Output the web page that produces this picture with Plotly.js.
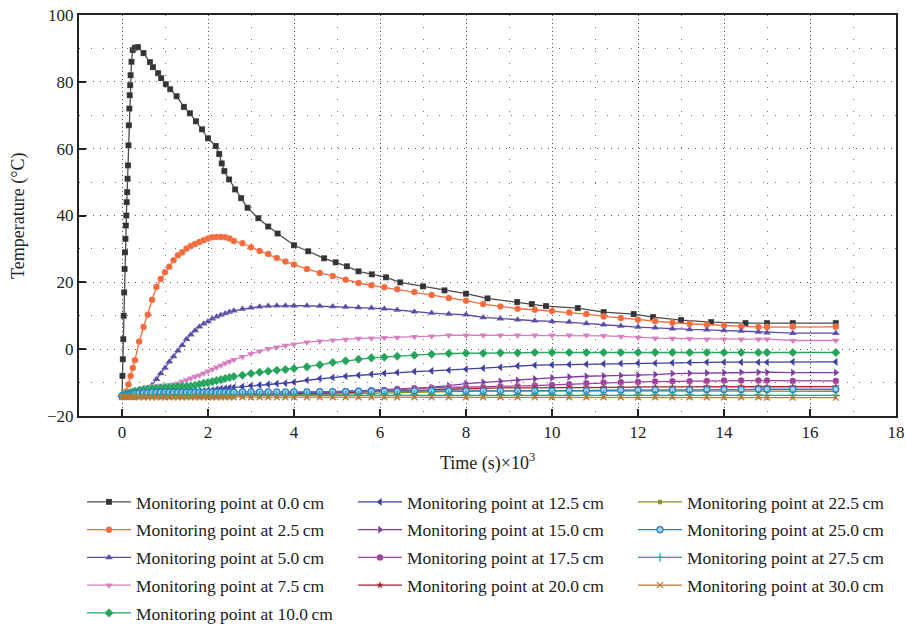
<!DOCTYPE html>
<html>
<head>
<meta charset="utf-8">
<script src="https://cdn.plot.ly/plotly-3.0.1.min.js"></script>
<style>html,body{margin:0;padding:0;background:#fff;}#chart{width:906px;height:624px;}</style>
</head>
<body>
<div id="chart"></div>
<script>
// ---- Data (time in s x10^3, temperature in °C) ----
const timeSurface = [0,0.01,0.02,0.03,0.04,0.05,0.06,0.07,0.08,0.09,0.1,0.11,0.12,0.13,0.14,0.15,0.16,0.17,0.18,0.19,0.2,0.22,0.25,0.3,0.37,
  0.5,0.65,0.72,0.84,0.91,1.02,1.12,1.27,1.44,1.58,1.72,1.86,2.0,2.18,2.26,2.32,2.38,2.49,2.63,2.77,2.92,3.17,3.4,3.62,4.0,4.33,4.7,4.97,5.23,5.5,5.81,6.14,6.47,
  7.0,7.5,8.0,8.5,9.19,9.53,9.86,10.6,11.2,11.9,12.35,13.0,13.7,14.5,15.0,15.6,16.6];
const temp00 = [-14.0,-8,-3,3,10,17,24,29,33,37,40,44,47,51,55,61,67,72,76,79,82,86,89.5,90.2,90.4,
  88.6,85.9,84.4,82.6,81.1,79.3,77.8,75.7,72.5,70.6,68.2,65.8,63.1,60.8,58.4,55.6,53.3,50.8,47.8,45.2,42.3,39.2,36.7,34.6,31.1,29.3,27.2,26.0,24.8,23.3,22.4,21.5,20.0,
  18.8,17.6,16.6,15.2,14.1,13.5,12.9,12.3,11.1,10.5,9.6,8.7,8.1,7.8,7.8,7.8,7.8];

const timeCommon = [0,0.05,0.1,0.15,0.2,0.25,0.3,
  0.4,0.5,0.6,0.7,0.8,0.9,1.0,1.1,1.2,1.3,1.4,1.5,
  1.6,1.7,1.8,1.9,2.0,2.1,2.2,2.3,2.4,2.5,2.6,
  2.8,3.0,3.2,3.4,3.6,3.8,4.0,
  4.3,4.6,4.9,5.2,5.5,5.8,6.1,6.4,
  6.8,7.2,7.6,8.0,8.4,8.8,9.2,9.6,10.0,
  10.4,10.8,11.2,11.6,12.0,12.4,12.8,13.2,13.6,14.0,14.4,14.8,
  15.0,15.6,16.6];

const temp25 = [-14.0,-13.8,-12.6,-10.6,-8.0,-5.6,-3.3,
  2.3,6.6,10.3,14.8,18.6,21.0,23.0,24.7,26.6,28.1,29.0,30.1,
  30.9,31.5,32.1,32.6,33.1,33.5,33.6,33.6,33.5,33.1,32.4,
  31.7,30.5,29.4,28.5,27.3,26.2,25.3,
  24.0,22.8,21.9,20.8,19.8,19.1,18.5,17.9,
  17.1,16.2,15.3,14.5,13.5,12.8,12.1,11.8,11.4,
  11.0,10.5,9.8,9.3,8.8,8.4,7.9,7.6,7.3,7.1,6.8,6.6,
  6.6,6.7,6.7];

const temp50 = [-14.0,-13.9,-13.9,-13.8,-13.8,-13.7,-13.7,
  -13.5,-13.1,-12.2,-10.8,-9.0,-7.3,-5.6,-3.8,-2.2,-0.5,1.2,3.0,
  4.3,5.6,6.7,7.6,8.3,9.1,9.7,10.2,10.7,11.1,11.5,
  12.0,12.4,12.7,12.9,13.0,13.0,13.0,
  13.0,12.9,12.8,12.6,12.5,12.3,12.1,11.7,
  11.2,10.8,10.5,10.3,9.5,9.1,8.8,8.5,8.3,
  8.1,7.7,7.3,6.9,6.6,6.4,6.1,5.9,5.8,5.6,5.4,5.1,
  4.9,4.8,4.8];

const temp75 = [-14.0,-13.8,-13.6,-13.4,-13.1,-12.8,-12.5,
  -12.0,-11.6,-11.3,-11.1,-11.0,-10.9,-10.8,-10.7,-10.5,-10.2,-9.7,-9.2,
  -8.7,-8.2,-7.8,-7.2,-6.6,-6.0,-5.4,-4.8,-4.2,-3.7,-3.2,
  -2.3,-1.4,-0.6,0.1,0.6,1.1,1.5,
  2.1,2.4,2.7,2.9,3.2,3.3,3.4,3.5,
  3.7,3.9,4.2,4.2,4.2,4.2,4.2,4.2,4.2,
  4.2,4.2,4.0,3.8,3.5,3.3,3.2,3.1,3.0,3.0,3.0,3.0,
  3.0,2.6,2.6];

const temp100 = [-14.0,-13.6,-13.4,-13.2,-13.0,-12.8,-12.6,
  -12.3,-12.1,-11.9,-11.8,-11.7,-11.6,-11.5,-11.4,-11.3,-11.2,-11.1,-11.1,
  -11.0,-10.8,-10.5,-10.2,-10.0,-9.7,-9.4,-9.1,-8.8,-8.5,-8.2,
  -7.8,-7.3,-6.9,-6.6,-6.3,-6.1,-5.8,
  -5.3,-4.7,-4.0,-3.5,-3.0,-2.6,-2.4,-2.1,
  -1.8,-1.5,-1.3,-1.2,-1.2,-1.1,-1.1,-1.0,-1.0,
  -1.0,-1.0,-1.0,-1.0,-1.0,-1.0,-1.0,-1.0,-1.0,-1.0,-1.0,-1.0,
  -1.0,-1.0,-1.0];

const temp125 = [-14.0,-13.9,-13.9,-13.9,-13.9,-13.8,-13.8,
  -13.8,-13.8,-13.7,-13.6,-13.5,-13.5,-13.4,-13.3,-13.2,-13.1,-13.0,-12.9,
  -12.8,-12.7,-12.6,-12.5,-12.3,-12.2,-12.0,-11.8,-11.7,-11.5,-11.4,
  -11.2,-10.9,-10.7,-10.5,-10.3,-10.2,-9.9,
  -9.3,-8.8,-8.5,-8.1,-7.8,-7.5,-7.2,-7.0,
  -6.7,-6.5,-6.3,-6.0,-5.7,-5.4,-5.0,-4.8,-4.7,
  -4.6,-4.5,-4.4,-4.3,-4.2,-4.2,-4.1,-4.0,-3.9,-3.9,-3.9,-3.9,
  -3.9,-3.8,-3.8];

const temp150 = [-14.0,-14.0,-14.0,-13.9,-13.9,-13.9,-13.9,
  -13.9,-13.9,-13.9,-13.8,-13.8,-13.8,-13.8,-13.8,-13.8,-13.7,-13.7,-13.7,
  -13.7,-13.7,-13.6,-13.6,-13.6,-13.6,-13.5,-13.5,-13.5,-13.5,-13.5,
  -13.4,-13.4,-13.3,-13.3,-13.2,-13.1,-13.0,
  -12.9,-12.8,-12.7,-12.6,-12.5,-12.4,-12.3,-12.1,
  -11.8,-11.4,-10.9,-10.3,-9.9,-9.6,-9.3,-8.9,-8.6,
  -8.3,-8.1,-8.0,-7.9,-7.8,-7.6,-7.3,-7.2,-7.1,-7.0,-6.9,-6.9,
  -6.9,-7.0,-7.0];

const temp175 = [-14.0,-14.0,-14.0,-14.0,-14.0,-14.0,-14.0,
  -13.9,-13.9,-13.9,-13.9,-13.9,-13.9,-13.9,-13.9,-13.9,-13.9,-13.9,-13.9,
  -13.9,-13.9,-13.8,-13.8,-13.8,-13.8,-13.8,-13.8,-13.7,-13.7,-13.7,
  -13.7,-13.6,-13.6,-13.5,-13.5,-13.4,-13.4,
  -13.2,-13.0,-12.9,-12.7,-12.5,-12.3,-12.2,-11.9,
  -11.7,-11.6,-11.5,-11.4,-11.4,-11.2,-11.1,-10.9,-10.7,
  -10.5,-10.2,-10.0,-9.9,-9.8,-9.7,-9.6,-9.6,-9.5,-9.4,-9.4,-9.4,
  -9.4,-9.5,-9.5];

const temp200 = [-14.0,-14.0,-14.0,-14.0,-14.0,-14.0,-14.0,
  -14.0,-14.0,-14.0,-14.0,-14.0,-14.0,-14.0,-13.9,-13.9,-13.9,-13.9,-13.9,
  -13.9,-13.9,-13.9,-13.9,-13.9,-13.9,-13.9,-13.9,-13.9,-13.9,-13.9,
  -13.8,-13.8,-13.7,-13.7,-13.6,-13.6,-13.5,
  -13.4,-13.3,-13.2,-13.1,-12.9,-12.8,-12.7,-12.6,
  -12.4,-12.2,-12.0,-11.8,-11.7,-11.6,-11.6,-11.5,-11.5,
  -11.5,-11.5,-11.4,-11.4,-11.4,-11.3,-11.3,-11.3,-11.2,-11.2,-11.2,-11.2,
  -11.2,-11.2,-11.2];

const temp225 = [-14.0,-14.0,-14.0,-14.0,-14.0,-14.0,-14.0,
  -14.0,-14.0,-14.0,-14.0,-14.0,-14.0,-14.0,-14.0,-14.0,-14.0,-14.0,-14.0,
  -13.9,-13.9,-13.9,-13.9,-13.9,-13.9,-13.9,-13.9,-13.9,-13.9,-13.9,
  -13.9,-13.9,-13.9,-13.8,-13.8,-13.8,-13.7,
  -13.7,-13.6,-13.5,-13.4,-13.3,-13.2,-13.1,-13.0,
  -12.9,-12.8,-12.7,-12.6,-12.5,-12.5,-12.5,-12.5,-12.5,
  -12.5,-12.5,-12.5,-12.5,-12.6,-12.6,-12.6,-12.6,-12.6,-12.6,-12.6,-12.6,
  -12.6,-12.6,-12.6];

const temp250 = [-14.0,-13.8,-13.6,-13.5,-13.4,-13.3,-13.2,
  -13.1,-13.0,-13.0,-12.9,-12.9,-12.9,-12.9,-12.9,-12.9,-12.9,-12.9,-12.9,
  -12.9,-12.9,-12.9,-12.9,-12.9,-12.9,-12.9,-12.9,-12.9,-12.9,-12.9,
  -12.8,-12.8,-12.8,-12.8,-12.8,-12.8,-12.8,
  -12.8,-12.7,-12.7,-12.7,-12.6,-12.6,-12.6,-12.6,
  -12.5,-12.5,-12.5,-12.5,-12.5,-12.5,-12.5,-12.5,-12.5,
  -12.4,-12.4,-12.3,-12.3,-12.3,-12.2,-12.2,-12.2,-12.1,-12.1,-12.1,-12.0,
  -12.0,-12.0,-12.0];

const temp275 = [-14.0,-13.9,-13.9,-13.9,-13.9,-13.8,-13.8,
  -13.8,-13.8,-13.8,-13.8,-13.8,-13.8,-13.8,-13.8,-13.8,-13.8,-13.8,-13.8,
  -13.8,-13.8,-13.8,-13.8,-13.8,-13.8,-13.8,-13.8,-13.8,-13.8,-13.8,
  -13.7,-13.7,-13.7,-13.7,-13.7,-13.7,-13.7,
  -13.7,-13.7,-13.7,-13.7,-13.7,-13.7,-13.7,-13.7,
  -13.6,-13.6,-13.6,-13.6,-13.6,-13.6,-13.6,-13.6,-13.6,
  -13.7,-13.7,-13.7,-13.7,-13.7,-13.7,-13.7,-13.7,-13.7,-13.7,-13.7,-13.7,
  -13.8,-13.8,-13.8];

const temp300 = [-14.3,-14.3,-14.3,-14.3,-14.3,-14.3,-14.3,
  -14.4,-14.4,-14.4,-14.4,-14.4,-14.4,-14.4,-14.4,-14.4,-14.4,-14.4,-14.4,
  -14.4,-14.4,-14.4,-14.4,-14.4,-14.4,-14.4,-14.4,-14.4,-14.4,-14.4,
  -14.4,-14.4,-14.4,-14.4,-14.4,-14.4,-14.4,
  -14.4,-14.4,-14.4,-14.4,-14.4,-14.4,-14.4,-14.4,
  -14.4,-14.4,-14.4,-14.4,-14.4,-14.4,-14.4,-14.4,-14.4,
  -14.4,-14.4,-14.4,-14.4,-14.4,-14.4,-14.4,-14.4,-14.4,-14.4,-14.4,-14.4,
  -14.5,-14.5,-14.5];

const seriesNames = ['0.0','2.5','5.0','7.5','10.0','12.5','15.0','17.5','20.0','22.5','25.0','27.5','30.0'];
const xTitle = 'Time (s)×10<sup>3</sup>';
const yTitle = 'Temperature (°C)';

// ---- Styles ----
const FONT = '"Liberation Serif", "Times New Roman", Times, serif';
const styles = [
  {c:'#4a4a4a', m:'#333333', s:'square', sz:6},
  {c:'#f26a3c', m:'#f26a3c', s:'circle', sz:6.5},
  {c:'#5a4ca6', m:'#5a4ca6', s:'triangle-up', sz:7},
  {c:'#d67bbd', m:'#d67bbd', s:'triangle-down', sz:7},
  {c:'#23a45a', m:'#23a45a', s:'diamond', sz:7},
  {c:'#3e3e9e', m:'#3e3e9e', s:'triangle-left', sz:7},
  {c:'#7b3ca3', m:'#7b3ca3', s:'triangle-right', sz:7},
  {c:'#a03f9b', m:'#a03f9b', s:'circle', sz:6.5},
  {c:'#a8202e', m:'#a8202e', s:'star', sz:6},
  {c:'#8c8c1e', m:'#8c8c1e', s:'circle', sz:5},
  {c:'#2c7fbf', m:'#a9d3f0', s:'circle', sz:6, ml:'#2c7fbf'},
  {c:'#17a3a3', m:'#17a3a3', s:'cross-thin', sz:6},
  {c:'#b97a36', m:'#b97a36', s:'x-thin', sz:6}
];
const xs = [timeSurface].concat(Array(12).fill(timeCommon));
const ys = [temp00,temp25,temp50,temp75,temp100,temp125,temp150,temp175,temp200,temp225,temp250,temp275,temp300];
const legendOf = i => i < 5 ? 'legend' : (i < 9 ? 'legend2' : 'legend3');

const traces = ys.map((y, i) => {
  const st = styles[i];
  const thin = st.s.endsWith('-thin');
  return {
    type:'scatter', mode:'lines+markers',
    x: xs[i], y: y,
    name: 'Monitoring point at ' + seriesNames[i] + '\u2009cm',
    legend: legendOf(i),
    legendgroup: 'g' + i,
    line:{color:st.c, width:1.3},
    marker:{symbol:st.s, size:st.sz, color:st.m,
      line:{color: thin ? st.c : (st.ml || 'rgba(255,255,255,0.35)'), width: thin ? 1.3 : (st.ml ? 1.3 : 0.5)}}
  };
});

const legBase = {xref:'container', yref:'container', xanchor:'left', yanchor:'top',
  bgcolor:'rgba(0,0,0,0)', borderwidth:0, font:{family:FONT, size:17.5, color:'#222'},
  itemwidth:44, traceorder:'grouped', tracegroupgap:2};

const layout = {
  width:906, height:624,
  margin:{l:79, r:10, t:15, b:208, autoexpand:false},
  paper_bgcolor:'#ffffff', plot_bgcolor:'#ffffff',
  font:{family:FONT, size:16, color:'#222'},
  showlegend:true,
  xaxis:{
    range:[-1,18], tick0:0, dtick:2, ticks:'inside', ticklen:7, tickwidth:2, tickcolor:'#222',
    showline:true, mirror:true, linecolor:'#222', linewidth:2,
    showgrid:true, gridcolor:'#555', gridwidth:1, griddash:'1px,3px', zeroline:false,
    minor:{dtick:1, showgrid:true, gridcolor:'#777', griddash:'1px,11px', ticks:''},
    tickfont:{family:FONT, size:17, color:'#222'},
    automargin:false
  },
  yaxis:{
    range:[-20,100], tick0:0, dtick:20, ticks:'inside', ticklen:7, tickwidth:2, tickcolor:'#222',
    showline:true, mirror:true, linecolor:'#222', linewidth:2,
    showgrid:true, gridcolor:'#555', gridwidth:1, griddash:'1px,6px', zeroline:false,
    minor:{dtick:10, showgrid:true, gridcolor:'#777', griddash:'1px,11px', ticks:''},
    tickfont:{family:FONT, size:17, color:'#222'},
    automargin:false
  },
  annotations:[
    {text:xTitle, xref:'paper', yref:'paper', x:0.5, y:(416-462)/(416-15), xanchor:'center', yanchor:'middle',
     showarrow:false, font:{family:FONT, size:18, color:'#222'}},
    {text:yTitle, xref:'paper', yref:'paper', x:(18-79)/817, y:(416-216)/(416-15), xanchor:'center', yanchor:'middle',
     textangle:-90, showarrow:false, font:{family:FONT, size:18, color:'#222'}}
  ],
  legend: Object.assign({}, legBase, {x:82/906, y:1-484/624}),
  legend2: Object.assign({}, legBase, {x:353/906, y:1-484/624}),
  legend3: Object.assign({}, legBase, {x:633/906, y:1-484/624})
};

Plotly.newPlot('chart', traces, layout, {displayModeBar:false, staticPlot:true});
</script>
</body>
</html>
